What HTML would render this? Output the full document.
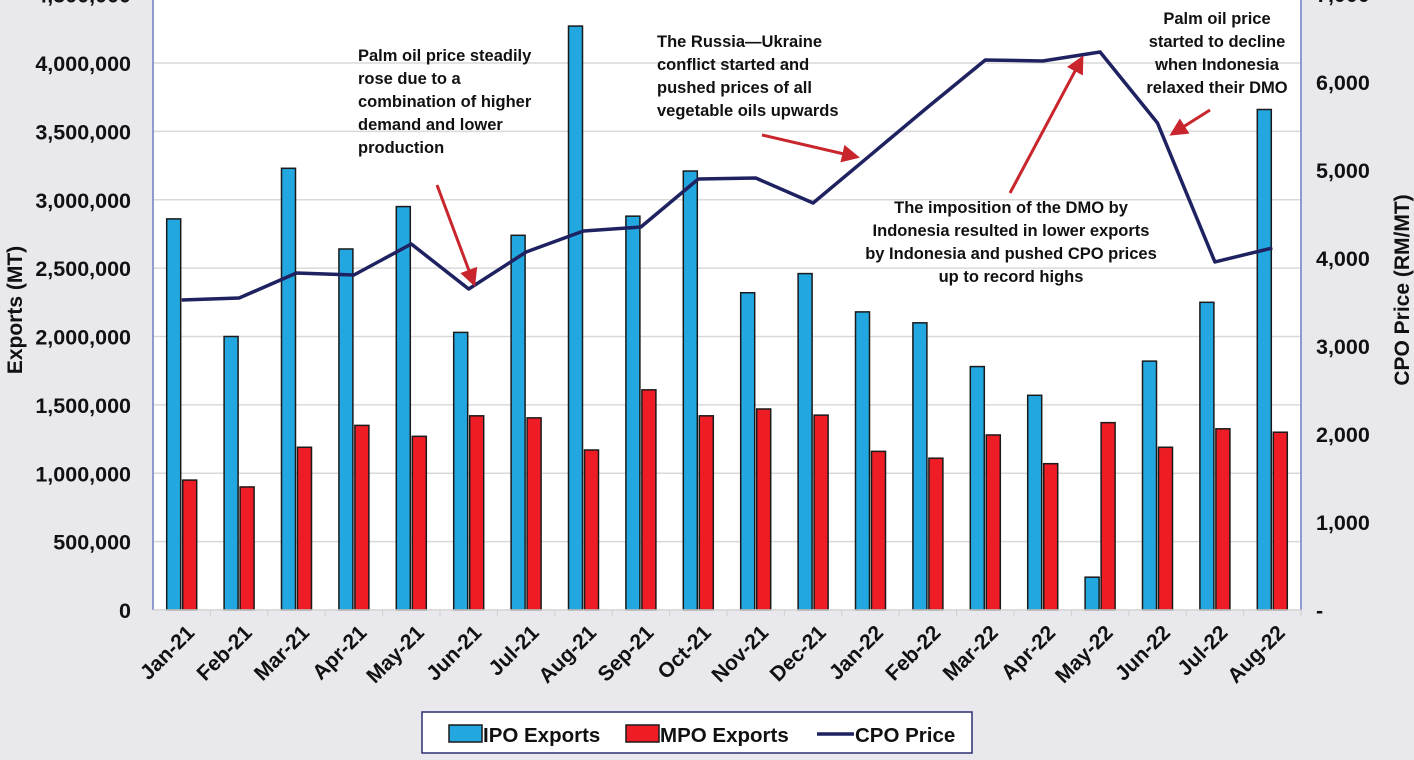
<!DOCTYPE html>
<html><head><meta charset="utf-8"><style>
html,body{margin:0;padding:0;background:#e9e8ec;}
svg{display:block;font-family:"Liberation Sans",sans-serif;font-weight:bold;}
</style></head><body>
<svg id="chart" width="1414" height="760" viewBox="0 0 1414 760">
<rect x="0" y="0" width="1414" height="760" fill="#e9e8ec"/>
<rect x="153" y="-10" width="1148" height="621" fill="#ffffff"/>
<g id="grid"></g><g id="bars"></g><g id="line"></g><g id="axes"></g><g id="notes"></g>
</svg>
<script>
const categories=["Jan-21","Feb-21","Mar-21","Apr-21","May-21","Jun-21","Jul-21","Aug-21","Sep-21","Oct-21","Nov-21","Dec-21","Jan-22","Feb-22","Mar-22","Apr-22","May-22","Jun-22","Jul-22","Aug-22"];
const ipoExports=[2860000,2000000,3230000,2640000,2950000,2030000,2740000,4270000,2880000,3210000,2320000,2460000,2180000,2100000,1780000,1570000,240000,1820000,2250000,3660000];
const mpoExports=[950000,900000,1190000,1350000,1270000,1420000,1405000,1170000,1610000,1420000,1470000,1425000,1160000,1110000,1280000,1070000,1370000,1190000,1325000,1300000];
const cpoPrice=[3523,3545,3830,3807,4159,3648,4068,4307,4352,4898,4909,4625,5170,5716,6250,6239,6341,5534,3955,4114];
const leftTicks=[0,500000,1000000,1500000,2000000,2500000,3000000,3500000,4000000,4500000];
const rightTicks=[0,1000,2000,3000,4000,5000,6000,7000];

const NS="http://www.w3.org/2000/svg";
const X0=153,X1=1301,Y0=610;
const yL=v=>Y0-v*(547/4000000);
const yR=v=>Y0-v*0.088;
const bw=(X1-X0)/categories.length;
const xc=i=>X0+bw*(i+0.5);
function mk(p,t,a){const e=document.createElementNS(NS,t);for(const k in a)e.setAttribute(k,a[k]);p.appendChild(e);return e;}
const fmt=n=>n.toLocaleString("en-US");
const grid=document.getElementById("grid"),bars=document.getElementById("bars"),line=document.getElementById("line"),axes=document.getElementById("axes"),notes=document.getElementById("notes");

leftTicks.forEach(v=>{
  if(v>0){const g=mk(grid,"line",{x1:X0,x2:X1,y1:yL(v),y2:yL(v),stroke:"#d9d9d9","stroke-width":1.5});
  
  }
  const t=mk(axes,"text",{x:131,y:yL(v)+8,"text-anchor":"end","font-size":21.5,fill:"#111"});
  t.textContent=fmt(v);
  
  
});
rightTicks.forEach(v=>{
  const t=mk(axes,"text",{x:1316,y:yR(v)+8,"font-size":21.5,fill:"#111"});
  t.textContent=v===0?"-":fmt(v);
  
  
});
categories.forEach((c,i)=>{
  const b=mk(bars,"rect",{x:xc(i)-15,y:yL(ipoExports[i]),width:14,height:Y0-yL(ipoExports[i]),fill:"#22a7e0",stroke:"#1a1a1a","stroke-width":1.5});
  
  
  const r=mk(bars,"rect",{x:xc(i)+1,y:yL(mpoExports[i]),width:14,height:Y0-yL(mpoExports[i]),fill:"#ee1c25",stroke:"#1a1a1a","stroke-width":1.5});
  
  
  const tk=mk(axes,"line",{x1:X0+bw*(i+1),x2:X0+bw*(i+1),y1:Y0,y2:Y0+6,stroke:"#cfcfcf"});
  
  
  const t=mk(axes,"text",{transform:`translate(${xc(i)+14},${Y0+24}) rotate(-45)`,"text-anchor":"end","font-size":21,fill:"#111"});
  t.textContent=c;
  
  
});
const pl=mk(line,"polyline",{points:cpoPrice.map((v,i)=>xc(i)+","+yR(v)).join(" "),fill:"none",stroke:"#1f2260","stroke-width":3.5,"stroke-linejoin":"round"});


const al=mk(axes,"line",{x1:X0,x2:X0,y1:-10,y2:Y0,stroke:"#6f7fc4","stroke-width":1.5});


const ar=mk(axes,"line",{x1:X1,x2:X1,y1:-10,y2:Y0,stroke:"#6f7fc4","stroke-width":1.5});


const ab=mk(axes,"line",{x1:X0,x2:X1,y1:Y0,y2:Y0,stroke:"#cfcfcf","stroke-width":1.5});


const yt=mk(axes,"text",{transform:"translate(22,310) rotate(-90)","text-anchor":"middle","font-size":21,fill:"#111"});
yt.textContent="Exports (MT)";


const yt2=mk(axes,"text",{transform:"translate(1409,290) rotate(-90)","text-anchor":"middle","font-size":21,fill:"#111"});
yt2.textContent="CPO Price (RM/MT)";



function note(lines,x,y,anchor,name){
  const t=mk(notes,"text",{x:x,y:y,"text-anchor":anchor,"font-size":16.5,fill:"#111"});
  
  
  lines.forEach((l,k)=>{const s=mk(t,"tspan",{x:x,dy:k?23:0});s.textContent=l;});
}
note(["Palm oil price steadily","rose due to a","combination of higher","demand and lower","production"],358,61,"start","annotation-steady-rise");
note(["The Russia\u2014Ukraine","conflict started and","pushed prices of all","vegetable oils upwards"],657,47,"start","annotation-russia-ukraine");
note(["Palm oil price","started to decline","when Indonesia","relaxed their DMO"],1217,24,"middle","annotation-decline");
note(["The imposition of the DMO by","Indonesia resulted in lower exports","by Indonesia and pushed CPO prices","up to record highs"],1011,213,"middle","annotation-dmo");
const defs=mk(document.getElementById("chart"),"defs",{});
const m=mk(defs,"marker",{id:"ah",markerWidth:6,markerHeight:6,refX:5,refY:3,orient:"auto"});
mk(m,"path",{d:"M0,0 L6,3 L0,6 z",fill:"#c8262c"});
[[437,185,474,284],[762,135,857,157],[1210,110,1172,134],[1010,193,1082,58]].forEach((a,k)=>{
  const l=mk(notes,"line",{x1:a[0],y1:a[1],x2:a[2],y2:a[3],stroke:"#c8262c","stroke-width":3,"marker-end":"url(#ah)"});
  
  
});
const lg=mk(axes,"g",{});


mk(lg,"rect",{x:422,y:712,width:550,height:41,fill:"#fff",stroke:"#2a2f6e","stroke-width":1.5});
const e1=mk(lg,"rect",{x:449,y:725,width:33,height:17,fill:"#22a7e0",stroke:"#1a1a1a","stroke-width":1.5});


const e2=mk(lg,"rect",{x:626,y:725,width:33,height:17,fill:"#ee1c25",stroke:"#1a1a1a","stroke-width":1.5});


const e3=mk(lg,"line",{x1:817,x2:854,y1:734,y2:734,stroke:"#1f2260","stroke-width":3.5});


[["IPO Exports",483],["MPO Exports",660],["CPO Price",855]].forEach(([s,x])=>{
  const t=mk(lg,"text",{x:x,y:742,"font-size":20.5,fill:"#111"});
  t.textContent=s;
  
  
});
</script>
</body></html>
